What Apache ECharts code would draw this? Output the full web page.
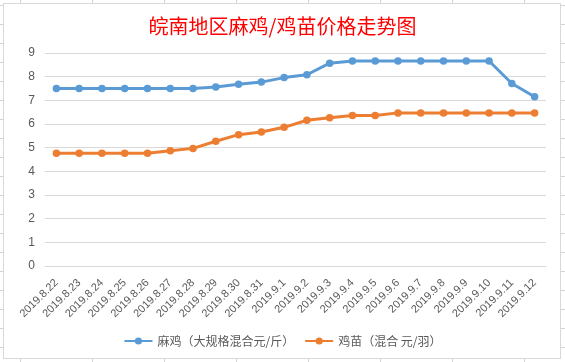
<!DOCTYPE html>
<html>
<head>
<meta charset="utf-8">
<script src="https://cdn.jsdelivr.net/npm/echarts@6/dist/echarts.min.js"></script>
<style>
html,body{margin:0;padding:0;width:565px;height:362px;overflow:hidden;}
body{
  background-color:#fff;
  background-image:linear-gradient(to right,#d4d4d4 1px,transparent 1px),linear-gradient(to bottom,#d4d4d4 1px,transparent 1px);
  background-size:72px 19px;
  background-position:20px 5px;
  position:relative;
}
#box{position:absolute;left:3px;top:3px;width:556px;height:354px;background:#fff;border:1px solid #d9d9d9;}
#chart{position:absolute;left:0;top:0;width:565px;height:362px;}
</style>
</head>
<body>
<div id="box"></div>
<div id="chart"></div>
<script>
const titleText = '皖南地区麻鸡/鸡苗价格走势图';
const categories = ['2019.8.22','2019.8.23','2019.8.24','2019.8.25','2019.8.26','2019.8.27','2019.8.28','2019.8.29','2019.8.30','2019.8.31','2019.9.1','2019.9.2','2019.9.3','2019.9.4','2019.9.5','2019.9.6','2019.9.7','2019.9.8','2019.9.9','2019.9.10','2019.9.11','2019.9.12'];
const seriesNames = ['麻鸡（大规格混合元/斤）','鸡苗（混合 元/羽）'];
const maji = [7.5,7.5,7.5,7.5,7.5,7.5,7.5,7.56,7.68,7.77,7.96,8.08,8.57,8.66,8.66,8.66,8.66,8.66,8.66,8.66,7.71,7.15];
const jimiao = [4.76,4.76,4.76,4.76,4.76,4.87,4.97,5.27,5.55,5.66,5.86,6.16,6.26,6.36,6.36,6.47,6.47,6.47,6.47,6.47,6.47,6.47];
const yTicks = {min:0,max:9,interval:1};

const chart = echarts.init(document.getElementById('chart'), null, {renderer:'canvas'});
const txt = '#595959';
const grid = '#d9d9d9';
chart.setOption({
  backgroundColor:'transparent',
  animation:false,
  title:{
    text:titleText,
    left:'center',
    top:11,
    textStyle:{color:'#ff0000',fontSize:20,fontWeight:'normal',fontFamily:'"Noto Sans CJK SC", sans-serif'}
  },
  grid:{left:45,right:19,top:53,bottom:96,containLabel:false},
  legend:{
    data:seriesNames,
    left:'center',
    top:330,
    itemWidth:28,
    itemHeight:9,
    itemGap:10,
    textStyle:{color:txt,fontSize:12,fontFamily:'"Noto Sans CJK SC", sans-serif'}
  },
  xAxis:{
    type:'category',
    data:categories,
    boundaryGap:true,
    axisLine:{show:true,lineStyle:{color:grid,width:1}},
    axisTick:{show:false},
    axisLabel:{interval:0,rotate:45,margin:15,color:txt,fontSize:11,fontFamily:'"Liberation Sans", sans-serif'},
    splitLine:{show:false}
  },
  yAxis:{
    type:'value',
    min:yTicks.min,max:yTicks.max,interval:yTicks.interval,
    axisLine:{show:false},
    axisTick:{show:false},
    axisLabel:{margin:10,color:txt,fontSize:12,fontFamily:'"Liberation Sans", sans-serif'},
    splitLine:{lineStyle:{color:grid,width:1}}
  },
  series:[
    {name:seriesNames[0],type:'line',data:maji,symbol:'circle',symbolSize:7.5,
     itemStyle:{color:'#5b9bd5'},lineStyle:{color:'#5b9bd5',width:3}},
    {name:seriesNames[1],type:'line',data:jimiao,symbol:'circle',symbolSize:7.5,
     itemStyle:{color:'#ed7d31'},lineStyle:{color:'#ed7d31',width:3}}
  ]
});
</script>
</body>
</html>
